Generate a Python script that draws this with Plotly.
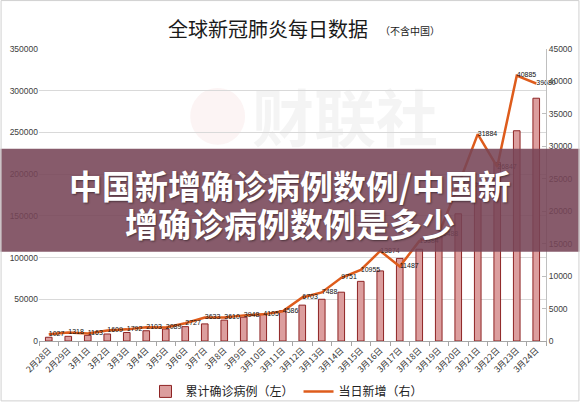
import plotly.graph_objects as go

dates = ["2月28日", "2月29日", "3月1日", "3月2日", "3月3日", "3月4日", "3月5日",
         "3月6日", "3月7日", "3月8日", "3月9日", "3月10日", "3月11日", "3月12日",
         "3月13日", "3月14日", "3月15日", "3月16日", "3月17日", "3月18日", "3月19日",
         "3月20日", "3月21日", "3月22日", "3月23日", "3月24日"]

cumulative = [4500, 5600, 6800, 8400, 10200, 12300, 14400, 17200, 20500, 25000,
              28500, 32000, 36500, 43000, 50000, 58500, 71500, 84000, 99000, 110000,
              126000, 152500, 189000, 214000, 252000, 291000]

daily_new = [1027, 1318, 1163, 1609, 1792, 2103, 2089, 2727, 3633, 3610,
             3948, 4105, 4586, 6703, 7488, 9751, 10955, 13874, 11487, 15384,
             16488, 24000, 31884, 26847, 40885, 39680]

left_ticks = [0, 50000, 100000, 150000, 200000, 250000, 300000, 350000]
right_ticks = [0, 5000, 10000, 15000, 20000, 25000, 30000, 35000, 40000, 45000]

title_text = "全球新冠肺炎每日数据"
subtitle_text = "（不含中国）"
banner_line1 = "中国新增确诊病例数例/中国新"
banner_line2 = "增确诊病例数例是多少"
watermark = "财联社"

ML, MR, MT, MB = 38.5, 33.5, 49, 60.5
W, H = 580, 402
PW, PH = W - ML - MR, H - MT - MB


def px(x):
    return (x - ML) / PW


def py(y):
    return (H - MB - y) / PH


fig = go.Figure()
fig.add_bar(
    x=dates, y=cumulative, name="累计确诊病例（左）", width=0.34,
    marker=dict(color="#DC9E9E", line=dict(color="#8E2424", width=1)),
    yaxis="y",
)
fig.add_scatter(
    x=dates, y=daily_new, name="当日新增（右）", mode="lines+text",
    text=[str(v) for v in daily_new], textposition="middle right",
    textfont=dict(size=7, color="#111111", family="Liberation Sans"),
    line=dict(color="#DE5C1C", width=2.5), yaxis="y2", cliponaxis=False,
)

fig.update_layout(
    width=W, height=H,
    margin=dict(l=ML, r=MR, t=MT, b=MB, autoexpand=False),
    paper_bgcolor="white", plot_bgcolor="white",
    font=dict(family="Noto Sans CJK SC", color="#333333"),
    showlegend=True,
    legend=dict(orientation="h", x=px(287), xanchor="center", y=py(392), yanchor="middle",
                font=dict(size=12, color="#222222", family="Noto Sans CJK SC"),
                itemwidth=30, bgcolor="rgba(0,0,0,0)"),
    xaxis=dict(type="category", range=[-0.5, len(dates) - 0.5], tickangle=-45,
               showgrid=False, showline=True, automargin=False,
               linecolor="#A6A6A6", ticks="outside", tickson="boundaries", ticklen=4,
               tickcolor="#A6A6A6", tickfont=dict(size=8.5, color="#333333",
                                                  family="Noto Sans CJK SC")),
    yaxis=dict(range=[0, 350000], tickvals=left_ticks, tickformat="d", automargin=False,
               gridcolor="#D9D9D9", gridwidth=1, zeroline=False, showline=False,
               tickfont=dict(size=8.5, color="#404040", family="Liberation Sans")),
    yaxis2=dict(range=[0, 45000], tickvals=right_ticks, tickformat="d", overlaying="y",
                side="right", showgrid=False, zeroline=False, showline=True, automargin=False,
                linecolor="#BFBFBF", ticks="inside", ticklen=4, tickcolor="#BFBFBF",
                tickfont=dict(size=8.5, color="#404040", family="Liberation Sans")),
    shapes=[
        # faint watermark logo
        dict(type="circle", xref="paper", yref="paper", layer="below",
             x0=px(190), x1=px(245), y0=py(145), y1=py(88),
             fillcolor="rgba(205,70,70,0.06)", line=dict(width=0)),
        dict(type="rect", xref="paper", yref="paper", layer="below",
             x0=px(250), x1=px(440), y0=py(165), y1=py(85),
             fillcolor="rgba(0,0,0,0)", line=dict(width=0),
             label=dict(text="<b>" + watermark + "</b>",
                        font=dict(size=62, color="rgba(0,0,0,0.045)",
                                  family="Noto Sans CJK SC"))),
        # banner band
        dict(type="rect", xref="paper", yref="paper", layer="above",
             x0=px(0), x1=px(W), y0=py(252), y1=py(149),
             fillcolor="rgba(118,68,86,0.88)", line=dict(width=0)),
        # outer border
        dict(type="rect", xref="paper", yref="paper", layer="above",
             x0=px(0.5), x1=px(W - 0.5), y0=py(H - 0.5), y1=py(0.5),
             fillcolor="rgba(0,0,0,0)", line=dict(color="#D0D0D0", width=1)),
    ],
    annotations=[
        dict(text=title_text, xref="paper", yref="paper", x=px(268), y=py(28),
             xanchor="center", yanchor="middle", showarrow=False,
             font=dict(size=20, color="#1a1a1a", family="Noto Sans CJK SC")),
        dict(text=subtitle_text, xref="paper", yref="paper", x=px(410), y=py(30),
             xanchor="center", yanchor="middle", showarrow=False,
             font=dict(size=10, color="#1a1a1a", family="Noto Sans CJK SC")),
        dict(text="<b>" + banner_line1 + "</b>", xref="paper", yref="paper", x=px(290), y=py(185),
             xanchor="center", yanchor="middle", showarrow=False,
             font=dict(size=33, color="white", family="Noto Sans CJK SC",
                       shadow="1px 1px 2px rgba(0,0,0,0.45)")),
        dict(text="<b>" + banner_line2 + "</b>", xref="paper", yref="paper", x=px(290), y=py(223),
             xanchor="center", yanchor="middle", showarrow=False,
             font=dict(size=33, color="white", family="Noto Sans CJK SC",
                       shadow="1px 1px 2px rgba(0,0,0,0.45)")),
    ],
)

fig.write_html("out.html", config={"displayModeBar": False},
               post_script="document.body.style.margin='0px';"
                           "document.body.style.overflow='hidden';")
